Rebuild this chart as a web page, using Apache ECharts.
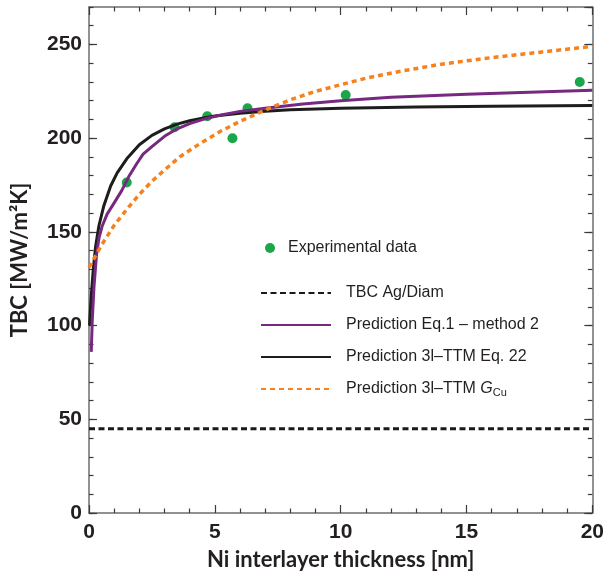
<!DOCTYPE html>
<html>
<head>
<meta charset="utf-8">
<script src="https://cdn.jsdelivr.net/npm/echarts@6/dist/echarts.min.js"></script>
<style>html,body{margin:0;padding:0;background:#fff;}#c{width:607px;height:576px;}</style>
</head>
<body>
<div id="c"></div>
<script>
// Experimental data
const expX = [1.5, 3.4, 4.7, 5.7, 6.3, 10.2, 19.5];
const expY = [176.4, 205.8, 211.7, 200, 216, 223, 230];

// TBC Ag/Diam (constant)
const agX = [0, 20];
const agY = [45, 45];

// Prediction Eq.1 - method 2 (purple)
const eq1X = [0.09, 0.13, 0.2, 0.3, 0.4, 0.52, 0.72, 1.0, 1.3, 1.6, 1.9, 2.15, 2.5, 3.0, 3.5, 4.0, 4.6, 5.2, 6.0, 7.0, 8.5, 10, 12, 15, 20];
const eq1Y = [86, 103, 121, 138, 147, 153, 159.5, 165.5, 172, 180, 186.5, 191.5, 195.5, 201, 205, 207.8, 210.3, 212.2, 214.3, 216, 218.3, 220, 221.8, 223.5, 225.6];

// Prediction 3l-TTM Eq. 22 (black)
const ttmX = [0.02, 0.09, 0.17, 0.26, 0.39, 0.59, 0.86, 1.12, 1.5, 2.0, 2.5, 3.0, 3.5, 4.0, 4.5, 5.0, 6.0, 7.0, 8.0, 10, 13, 16, 20];
const ttmY = [100, 116, 130, 142, 153, 164, 174.5, 181.5, 189, 196.5, 201.5, 205, 207.5, 209.3, 210.7, 211.8, 213.3, 214.4, 215.2, 216, 216.7, 217.1, 217.4];

// Prediction 3l-TTM G_Cu (orange)
const gcuX = [0, 0.5, 1, 1.5, 2, 2.5, 3, 3.6, 4.4, 5.2, 6, 7, 8, 9, 10, 11, 12.5, 14, 16, 18, 20];
const gcuY = [131, 143, 153.5, 162, 170, 177, 183, 190, 197, 203.5, 209, 215, 220.5, 225, 228.5, 232, 236, 239.5, 243, 246, 249];

const names = ['Experimental data', 'TBC Ag/Diam', 'Prediction Eq.1 \u2013 method 2', 'Prediction 3l\u2013TTM Eq. 22', 'Prediction 3l\u2013TTM G_Cu'];

const pairs = (xs, ys) => xs.map((x, i) => [x, ys[i]]);

const axisColor = '#6d6e71';
const tickColor = '#3a3a3a';
const labelFont = 'Liberation Sans';
const titleFont = 'Lato';

const chart = echarts.init(document.getElementById('c'), null, {renderer: 'canvas'});

function xAx(pos, labels) {
  return {
    type: 'value', position: pos, min: 0, max: 20, interval: 5,
    axisLine: {show: true, onZero: false, lineStyle: {color: axisColor, width: 1.5}},
    axisTick: {show: true, inside: true, length: 8, lineStyle: {color: tickColor, width: 1.2}},
    minorTick: {show: true, splitNumber: 5, length: 4.5, lineStyle: {color: tickColor, width: 1.2}},
    splitLine: {show: false}, minorSplitLine: {show: false},
    axisLabel: {show: labels, color: '#231f20', fontFamily: labelFont, fontWeight: 'bold', fontSize: 21, margin: 9},
    name: labels ? 'Ni interlayer thickness [nm]' : '',
    nameLocation: 'middle', nameGap: 36,
    nameTextStyle: {color: '#231f20', fontFamily: titleFont, fontWeight: 'bold', fontSize: 22}
  };
}
function yAx(pos, interval, tickLen, labels, line) {
  return {
    type: 'value', position: pos, min: 0, max: 270, interval: interval,
    axisLine: {show: line, onZero: false, lineStyle: {color: axisColor, width: 1.5}},
    axisTick: {show: true, inside: true, length: tickLen, lineStyle: {color: tickColor, width: 1.2}},
    splitLine: {show: false},
    axisLabel: {show: labels, showMaxLabel: false, color: '#231f20', fontFamily: labelFont, fontWeight: 'bold', fontSize: 21, margin: 7},
    name: labels ? 'TBC [MW/m\u00b2K]' : '',
    nameLocation: 'middle', nameGap: 58,
    nameTextStyle: {color: '#231f20', fontFamily: titleFont, fontWeight: 'bold', fontSize: 22}
  };
}

const legendText = {
  color: '#231f20', fontFamily: labelFont, fontSize: 16, lineHeight: 18,
  rich: {
    a: {fontFamily: labelFont, fontSize: 16, color: '#231f20'},
    i: {fontFamily: labelFont, fontSize: 16, fontStyle: 'italic', color: '#231f20'},
    s: {fontFamily: labelFont, fontSize: 11, color: '#231f20', padding: [7, 0, 0, 0]}
  }
};

chart.setOption({
  animation: false,
  backgroundColor: '#ffffff',
  grid: {left: 89, right: 12, top: 7, bottom: 63, containLabel: false},
  xAxis: [xAx('bottom', true), xAx('top', false)],
  yAxis: [
    yAx('left', 50, 8, true, true),
    yAx('left', 10, 4.5, false, false),
    yAx('right', 50, 8, false, true),
    yAx('right', 10, 4.5, false, false)
  ],
  legend: [
    {
      data: [{name: names[0], icon: 'circle'}],
      orient: 'vertical', left: 260, top: 234,
      itemWidth: 10, itemHeight: 10, selectedMode: false,
      textStyle: Object.assign({}, legendText, {padding: [0, 0, 0, 8]})
    },
    {
      data: [names[1], names[2], names[3], names[4]],
      orient: 'vertical', left: 255, top: 279,
      itemWidth: 70, itemHeight: 14, itemGap: 14, selectedMode: false,
      itemStyle: {color: 'rgba(0,0,0,0)', borderWidth: 0, borderColor: 'rgba(0,0,0,0)'},
      textStyle: Object.assign({}, legendText, {padding: [0, 0, 0, 10]}),
      formatter: function (n) {
        if (n === names[4]) return '{a|Prediction 3l\u2013TTM }{i|G}{s|Cu}';
        return '{a|' + n + '}';
      }
    }
  ],
  series: [
    {
      name: names[0], type: 'scatter', data: pairs(expX, expY),
      symbol: 'circle', symbolSize: 10, itemStyle: {color: '#1ba64a', opacity: 1}, z: 1
    },
    {
      name: names[1], type: 'line', data: pairs(agX, agY), symbol: 'none',
      lineStyle: {color: '#1a1a1a', width: 3, type: [6, 3.5]}, itemStyle: {color: '#1a1a1a'}, z: 2
    },
    {
      name: names[3], type: 'line', data: pairs(ttmX, ttmY), symbol: 'none', smooth: false,
      lineStyle: {color: '#1e1c1d', width: 3, join: 'round'}, itemStyle: {color: '#1e1c1d'}, z: 3
    },
    {
      name: names[2], type: 'line', data: pairs(eq1X, eq1Y), symbol: 'none', smooth: false,
      lineStyle: {color: '#77287f', width: 3, join: 'round'}, itemStyle: {color: '#77287f'}, z: 4
    },
    {
      name: names[4], type: 'line', data: pairs(gcuX, gcuY), symbol: 'none', smooth: false,
      lineStyle: {color: '#f5821f', width: 3.5, type: [5, 4]}, itemStyle: {color: '#f5821f'}, z: 5
    }
  ]
});
</script>
</body>
</html>
